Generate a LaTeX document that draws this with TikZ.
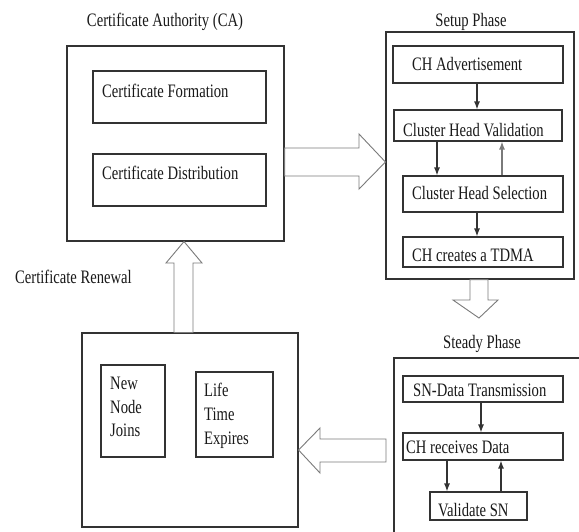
\documentclass[tikz,border=0pt]{standalone}
\usepackage{fontspec}
\setmainfont[FakeStretch=0.77]{Liberation Serif}
\usetikzlibrary{fit,arrows.meta}
\definecolor{boxcol}{HTML}{333333}
\definecolor{blkcol}{HTML}{7A7A7A}
\begin{document}
\begin{tikzpicture}[x=1pt,y=-1pt,
  box/.style={draw=boxcol,line width=1.1pt,inner sep=0pt},
  txt/.style={inner sep=0pt,anchor=base west,font=\fontsize{19}{23}\selectfont,text=black!90},
  ttl/.style={inner sep=0pt,anchor=base,font=\fontsize{19}{23}\selectfont,text=black!90},
  arr/.style={draw=boxcol,line width=1.2pt,-{Latex[length=8pt,width=6pt]}},
  garr/.style={draw=blkcol,line width=1.2pt,-{Latex[length=8pt,width=6pt]}},
  blk/.style={draw=blkcol,line width=0.9pt,fill=white}]
\clip (0,0) rectangle (579,531);
\fill[white] (0,0) rectangle (579,531);
% Certificate Authority
\node[ttl] (tca) at (165,26) {Certificate Authority (CA)};
\node[box,fit={(67,46) (284,241)}] (ca) {};
\node[box,fit={(93,71) (266,123)}] (cf) {};
\node[txt] (tcf) at (102,97) {Certificate Formation};
\node[box,fit={(93,154) (266,206)}] (cd) {};
\node[txt] (tcd) at (102,179) {Certificate Distribution};
% Setup phase
\node[ttl] (tsp) at (471,26) {Setup Phase};
\node[box,fit={(386,32) (574,279)}] (setup) {};
\node[box,fit={(393,46) (563,83)}] (cha) {};
\node[txt] (tcha) at (412,70) {CH Advertisement};
\node[box,fit={(394,110) (562,141)}] (chv) {};
\node[txt] (tchv) at (403,136) {Cluster Head Validation};
\node[box,fit={(403,176) (563,212)}] (chs) {};
\node[txt] (tchs) at (412,199) {Cluster Head Selection};
\node[box,fit={(403,237) (563,267)}] (tdma) {};
\node[txt] (ttdma) at (412,261) {CH creates a TDMA};
\coordinate (xa) at (477,0);
\coordinate (xb) at (437,0);
\coordinate (xc) at (502,0);
\draw[arr] (cha.south -| xa) -- (chv.north -| xa);
\draw[arr] (chv.south -| xb) -- (chs.north -| xb);
\draw[garr] (chs.north -| xc) -- (chv.south -| xc);
\draw[arr] (chs.south -| xa) -- (tdma.north -| xa);
% Steady phase
\node[ttl] (tst) at (482,348) {Steady Phase};
\node[box,fit={(394,358) (590,545)}] (steady) {};
\node[box,fit={(403,376) (563,402)}] (sn) {};
\node[txt] (tsn) at (413,396) {SN-Data Transmission};
\node[box,fit={(403,433) (563,460)}] (chr) {};
\node[txt] (tchr) at (406,453) {CH receives Data};
\node[box,fit={(430,492) (527,520)}] (vsn) {};
\node[txt] (tvsn) at (438,516) {Validate SN};
\coordinate (xd) at (481,0);
\coordinate (xe) at (447,0);
\coordinate (xf) at (501,0);
\draw[arr] (sn.south -| xd) -- (chr.north -| xd);
\draw[arr] (chr.south -| xe) -- (vsn.north -| xe);
\draw[arr] (vsn.north -| xf) -- (chr.south -| xf);
% Renewal box
\node[box,fit={(82,333) (298,527)}] (ren) {};
\node[box,fit={(101,365) (165,457)}] (nnj) {};
\node[txt] (tn1) at (110,389) {New};
\node[txt] (tn2) at (110,413) {Node};
\node[txt] (tn3) at (110,436) {Joins};
\node[box,fit={(196,372) (273,457)}] (lte) {};
\node[txt] (tl1) at (204,396) {Life};
\node[txt] (tl2) at (204,420) {Time};
\node[txt] (tl3) at (204,444) {Expires};
\node[txt] (tcr) at (15,283) {Certificate Renewal};
% Block arrows
\draw[blk] (ca.east |- 0,148) -- (359,148) -- (359,134) -- (setup.west |- 0,162) -- (359,189) -- (359,176) -- (ca.east |- 0,176) -- cycle;
\draw[blk] (setup.south -| 470,0) -- (470,300) -- (453,300) -- (479,318) -- (498,300) -- (488,300) -- (setup.south -| 488,0) -- cycle;
\draw[blk] (386,439) -- (320,439) -- (320,428) -- (ren.east |- 0,450) -- (320,473) -- (320,462) -- (386,462) -- cycle;
\draw[blk] (ren.north -| 174,0) -- (174,263) -- (166,263) -- (ca.south -| 184,0) -- (202,263) -- (193,263) -- (ren.north -| 193,0) -- cycle;
\end{tikzpicture}
\end{document}
